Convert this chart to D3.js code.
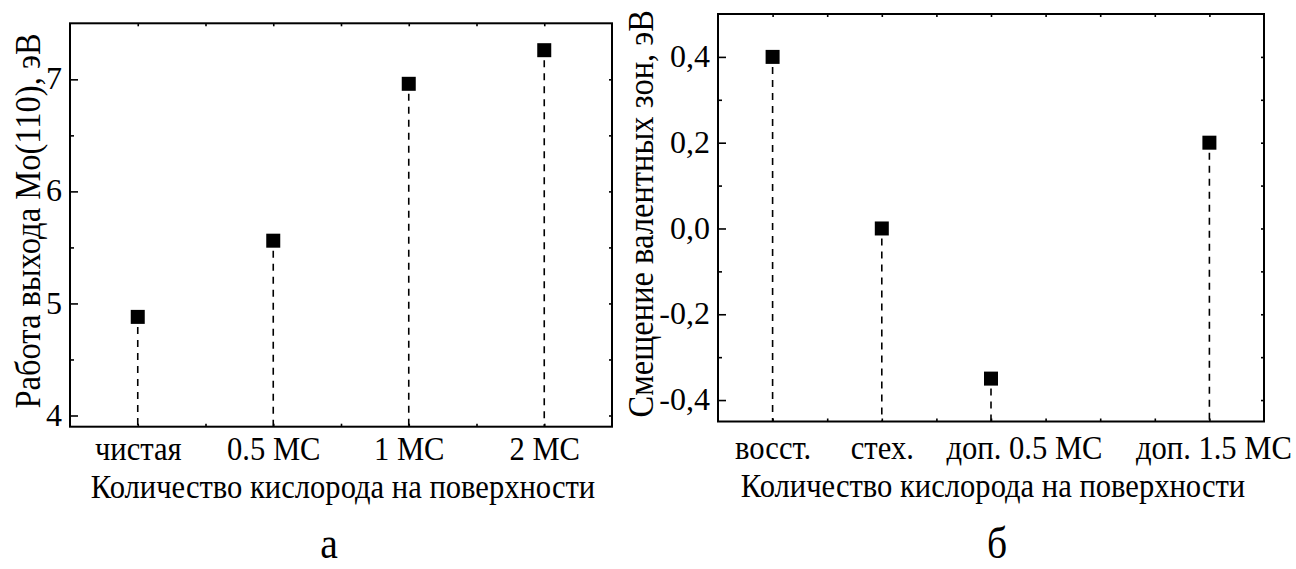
<!DOCTYPE html>
<html>
<head>
<meta charset="utf-8">
<script src="https://cdn.jsdelivr.net/npm/d3@7"></script>
<style>
  body { margin: 0; background: #fff; }
  svg { display: block; font-family: "Liberation Serif", "Times New Roman", serif; }
  .frame { fill: none; stroke: #000; stroke-width: 2; }
  .stem { stroke: #000; stroke-width: 1.6; stroke-dasharray: 7,6; }
  .tick line { stroke: #000; stroke-width: 1.6; }
</style>
</head>
<body>
<svg id="chart" width="1296" height="569"></svg>
<script>
// panel a: work function of Mo(110)
const catsA = ["чистая", "0.5 МС", "1 МС", "2 МС"];
const posA = [1, 2, 3, 4];
const valsA = [4.88, 5.56, 6.96, 7.26];
const yTicksA = [4, 5, 6, 7];
const yMinorA = [4.5, 5.5, 6.5];

// panel b: valence band shift
const catsB = ["восст.", "стех.", "доп. 0.5 МС", "доп. 1.5 МС"];
const posB = [1, 2, 3, 5];
const valsB = [0.4, 0.0, -0.35, 0.2];
const yTicksB = [-0.4, -0.2, 0.0, 0.2, 0.4];
const yMinorB = [-0.3, -0.1, 0.1, 0.3];

const ruLocale = d3.formatLocale({decimal: ",", thousands: " ", grouping: [3], currency: ["", ""], minus: "-"});

// the original lettering is a narrow Times, so squeeze Liberation Serif a bit
const SX = 0.9;

const svg = d3.select("#chart");

function drawPanel(p) {
    const g = svg.append("g");
    const x = d3.scaleLinear().domain(p.xDomain).range(p.xRange);
    const y = d3.scaleLinear().domain(p.yDomain).range(p.yRange);
    const [x0, x1] = p.xRange, [y1, y0] = p.yRange;

    // every half-step tick along top and bottom
    const halfSteps = d3.range(p.xDomain[0] + 0.5, p.xDomain[1], 0.5);

    g.append("g").attr("transform", `translate(0,${y1})`)
        .call(d3.axisBottom(x).tickValues(halfSteps).tickSize(-3).tickFormat(""));
    g.append("g").attr("transform", `translate(0,${y0})`)
        .call(d3.axisTop(x).tickValues(halfSteps).tickSize(-3).tickFormat(""));

    // category labels
    const catAxis = g.append("g").attr("transform", `translate(0,${y1})`)
        .call(d3.axisBottom(x).tickValues(p.pos).tickSize(0).tickPadding(p.labelPad)
            .tickFormat((d, i) => p.cats[i]));

    // left axis, ticks inside
    const yAxis = g.append("g").attr("transform", `translate(${x0},0)`)
        .call(d3.axisLeft(y).tickValues(p.yTicks).tickSizeInner(-8).tickSizeOuter(0)
            .tickPadding(8).tickFormat(p.fmt));
    g.append("g").attr("transform", `translate(${x0},0)`)
        .call(d3.axisLeft(y).tickValues(p.yMinor).tickSize(-4).tickFormat(""));
    g.append("g").attr("transform", `translate(${x1},0)`)
        .call(d3.axisRight(y).tickValues(p.yTicks.concat(p.yMinor)).tickSize(-3).tickFormat(""));

    g.selectAll(".domain").remove();
    // d3 puts font-family="sans-serif" on each axis group; drop it so the serif face applies
    g.selectAll("g").attr("font-family", null).attr("font-size", null);
    g.selectAll(".tick text").attr("fill", "#000");

    catAxis.selectAll(".tick text").attr("font-size", 34)
        .attr("x", (d, i) => (p.labelDx[i] || 0) / SX)
        .attr("transform", `scale(${SX},1)`);
    yAxis.selectAll(".tick text").attr("font-size", 32).attr("dy", "0.3em");

    g.append("rect").attr("class", "frame")
        .attr("x", x0).attr("y", y0).attr("width", x1 - x0).attr("height", y1 - y0);

    const pts = p.vals.map((v, i) => ({x: p.pos[i], v: v}));
    g.selectAll(".stem").data(pts).join("line").attr("class", "stem")
        .attr("x1", d => x(d.x)).attr("x2", d => x(d.x))
        .attr("y1", d => y(d.v) + 10).attr("y2", y1);
    g.selectAll(".pt").data(pts).join("rect").attr("class", "pt")
        .attr("x", d => x(d.x) - 7).attr("y", d => y(d.v) - 7)
        .attr("width", 14).attr("height", 14).attr("fill", "#000");

    g.append("text").attr("transform", `translate(${(x0 + x1) / 2 + 2},${p.xTitleY}) scale(${SX},1)`)
        .attr("text-anchor", "middle").attr("font-size", 34).text("Количество кислорода на поверхности");
    g.append("text").attr("transform", `translate(${p.yTitleX},${(y0 + y1) / 2 - 4}) rotate(-90) scale(0.93,1)`)
        .attr("text-anchor", "middle").attr("font-size", 35).text(p.yTitle);
    g.append("text").attr("transform", `translate(${p.letterX},558) scale(${SX},1)`)
        .attr("text-anchor", "middle").attr("font-size", 44).text(p.letter);
}

drawPanel({
    cats: catsA, pos: posA, vals: valsA, yTicks: yTicksA, yMinor: yMinorA,
    xDomain: [0.5, 4.5], xRange: [70, 612],
    yDomain: [3.9, 7.5], yRange: [426.7, 23.3],
    fmt: d3.format("d"), labelPad: 9, labelDx: [0, 0, 0, 0], xTitleY: 498,
    yTitle: "Работа выхода Mo(110), эВ", yTitleX: 40,
    letter: "а", letterX: 329
});

drawPanel({
    cats: catsB, pos: posB, vals: valsB, yTicks: yTicksB, yMinor: yMinorB,
    xDomain: [0.5, 5.5], xRange: [718, 1264],
    yDomain: [-0.45, 0.5], yRange: [421.5, 14],
    fmt: ruLocale.format(".1f"), labelPad: 13, labelDx: [0, 0, 33, 4], xTitleY: 497,
    yTitle: "Смещение валентных зон, эВ", yTitleX: 653,
    letter: "б", letterX: 997
});
</script>
</body>
</html>
